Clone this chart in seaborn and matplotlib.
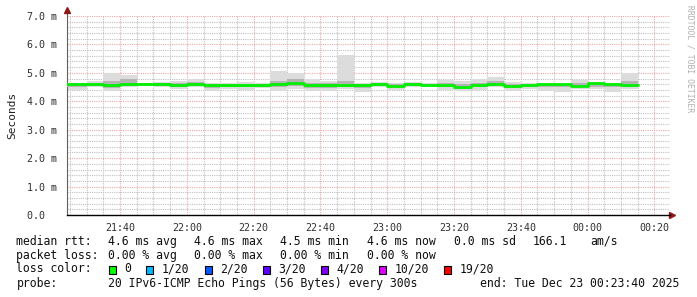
import numpy as np
import pandas as pd
import matplotlib
matplotlib.use("Agg")
import matplotlib.pyplot as plt
from matplotlib.patches import Rectangle
import seaborn as sns

# ---------------- data (minutes after 21:00, values in ms) ----------------
bin_start = [24, 30, 35, 40, 45, 50, 55, 60, 65, 70, 75, 80, 85, 90, 95, 100, 105,
             110, 115, 120, 125, 130, 135, 140, 145, 150, 155, 160, 165, 170, 175,
             180, 185, 190]
bin_end_last = 195
median = [4.60, 4.61, 4.58, 4.61, 4.61, 4.60, 4.58, 4.60, 4.58, 4.59, 4.57, 4.59,
          4.60, 4.64, 4.56, 4.58, 4.59, 4.58, 4.60, 4.54, 4.61, 4.58, 4.58, 4.50,
          4.57, 4.61, 4.55, 4.59, 4.61, 4.61, 4.55, 4.63, 4.61, 4.58]
smoke_lo = [4.41, 4.49, 4.37, 4.49, 4.54, 4.49, 4.42, 4.49, 4.37, 4.42, 4.40, 4.47,
            4.37, 4.42, 4.37, 4.37, 4.42, 4.34, 4.49, 4.40, 4.49, 4.49, 4.40, 4.37,
            4.40, 4.49, 4.37, 4.42, 4.37, 4.34, 4.42, 4.42, 4.34, 4.42]
smoke_hi = [4.64, 4.71, 5.00, 4.92, 4.65, 4.68, 4.72, 4.79, 4.65, 4.65, 4.68, 4.65,
            5.07, 5.00, 4.79, 4.71, 5.63, 4.63, 4.68, 4.65, 4.68, 4.63, 4.75, 4.71,
            4.79, 4.85, 4.68, 4.65, 4.63, 4.62, 4.75, 4.68, 4.63, 5.00]
core_lo = [4.52, 4.55, 4.47, 4.55, 4.57, 4.53, 4.50, 4.55, 4.47, 4.51, 4.49, 4.52,
           4.50, 4.55, 4.47, 4.48, 4.52, 4.48, 4.54, 4.46, 4.55, 4.53, 4.50, 4.44,
           4.50, 4.55, 4.47, 4.52, 4.50, 4.50, 4.50, 4.52, 4.50, 4.50]
core_hi = [4.63, 4.66, 4.70, 4.80, 4.63, 4.64, 4.64, 4.67, 4.62, 4.62, 4.62, 4.62,
           4.70, 4.78, 4.66, 4.63, 4.70, 4.61, 4.64, 4.60, 4.64, 4.61, 4.66, 4.60,
           4.66, 4.72, 4.61, 4.62, 4.62, 4.61, 4.64, 4.66, 4.62, 4.70]

x_ticks = [40, 60, 80, 100, 120, 140, 160, 180, 200]
x_tick_labels = ["21:40", "22:00", "22:20", "22:40", "23:00", "23:20", "23:40",
                 "00:00", "00:20"]
y_ticks = [0, 1, 2, 3, 4, 5, 6, 7]
y_tick_labels = ["0.0  ", "1.0 m", "2.0 m", "3.0 m", "4.0 m", "5.0 m", "6.0 m", "7.0 m"]

legend_rows = [
    ("median rtt:", ["4.6 ms avg", "4.6 ms max", "4.5 ms min", "4.6 ms now",
                     "0.0 ms sd", "166.1", "am/s"]),
    ("packet loss:", ["0.00 % avg", "0.00 % max", "0.00 % min", "0.00 % now"]),
]
loss_labels = ["0", "1/20", "2/20", "3/20", "4/20", "10/20", "19/20"]
loss_colors = ["#00ff00", "#00b8ff", "#0059ff", "#5e00ff", "#7e00ff", "#dd00ff", "#ff0000"]
probe_text = "20 IPv6-ICMP Echo Pings (56 Bytes) every 300s"
end_text = "end: Tue Dec 23 00:23:40 2025"

# ---------------- figure ----------------
sns.set_theme(style="white")
plt.rcParams["font.family"] = ["DejaVu Sans Mono"]

W, H = 697, 297
fig = plt.figure(figsize=(W / 100, H / 100), dpi=100)
L, R, T, B = 67, 670, 16, 215
ax = fig.add_axes([L / W, 1 - B / H, (R - L) / W, (B - T) / H])
ax.set_facecolor("white")

edges = bin_start + [bin_end_last]
def ext(v):
    return list(v) + [v[-1]]

df = pd.DataFrame({"t": edges, "median": ext(median), "lo": ext(smoke_lo),
                   "hi": ext(smoke_hi), "clo": ext(core_lo), "chi": ext(core_hi)})

ax.fill_between(df["t"], df["lo"], df["hi"], step="post", color="#dcdcdc", lw=0, zorder=2)
ax.fill_between(df["t"], df["clo"], df["chi"], step="post", color="#b4b4b4", lw=0, zorder=3)
sns.lineplot(data=df, x="t", y="median", drawstyle="steps-post", color="#00f000",
             lw=2.0, ax=ax, zorder=4, estimator=None)

ax.set_xlim(24.1, 204.7)
ax.set_ylim(0, 7.0)

ax.set_xticks(x_ticks)
ax.set_xticklabels(x_tick_labels)
ax.set_xticks(np.arange(25, 205, 5), minor=True)
ax.set_yticks(y_ticks)
ax.set_yticklabels(y_tick_labels)
ax.set_yticks(np.arange(0, 7.01, 0.2), minor=True)

ax.grid(which="minor", color="#c0c0c0", linestyle=(0, (1, 1)), lw=0.8, zorder=1)
ax.grid(which="major", color="#f0a8a8", linestyle=(0, (1, 1)), lw=0.8, zorder=1)
ax.set_axisbelow(True)

ax.tick_params(axis="both", which="major", labelsize=7.2, length=3, width=0.7,
               color="#a04040", direction="out", pad=3, labelcolor="#303030")
ax.tick_params(axis="both", which="minor", length=2, width=0.6, color="#808080",
               direction="out")
ax.tick_params(axis="y", which="major", pad=4)
ax.set_xlabel("")
ax.set_ylabel("")

for s in ["top", "right"]:
    ax.spines[s].set_visible(False)
ax.spines["left"].set_color("#606060")
ax.spines["left"].set_linewidth(0.8)
ax.spines["bottom"].set_color("#000000")
ax.spines["bottom"].set_linewidth(1.0)

# axis arrows
ax.plot([0, 0], [1.0, 1.03], transform=ax.transAxes, color="#606060", lw=0.8, clip_on=False)
ax.plot([0], [1.03], marker="^", ms=4, color="#8b1a1a", transform=ax.transAxes, clip_on=False)
ax.plot([1.0, 1.004], [0, 0], transform=ax.transAxes, color="#000000", lw=1.0, clip_on=False)
ax.plot([1.004], [0], marker=">", ms=4, color="#8b1a1a", transform=ax.transAxes, clip_on=False)

# y label and watermark
fig.text(12 / W, 1 - 115 / H, "Seconds", rotation=90, ha="center", va="center",
         fontsize=8, color="#202020")
fig.text(690 / W, 1 - 5 / H, "RRDTOOL / TOBI OETIKER", rotation=270, ha="center",
         va="top", fontsize=5.8, color="#b0b0b0")

# legend text block
FS = 8.3
def ftext(x, y, s, **kw):
    fig.text(x / W, 1 - y / H, s, ha="left", va="center", fontsize=FS, color="#101010", **kw)

row_y = [241.5, 255.5, 269.0, 283.5]
col_x = [108.0, 194.5, 280.5, 366.5, 453.5, 533.0, 590.0]
for (label, vals), y in zip(legend_rows, row_y[:2]):
    ftext(16.5, y, label)
    for v, x in zip(vals, col_x):
        ftext(x, y, v)

ftext(16.5, row_y[2], "loss color:")
box_x = [108.5, 146.0, 204.5, 262.5, 320.5, 379.0, 444.0]
for bx, lab, col in zip(box_x, loss_labels, loss_colors):
    fig.patches.append(Rectangle((bx / W, 1 - 273.5 / H), 7 / W, 8 / H,
                                 transform=fig.transFigure, facecolor=col,
                                 edgecolor="black", lw=0.8))
    ftext(bx + 15.5, row_y[2], lab)

ftext(16.5, row_y[3], "probe:")
ftext(108.0, row_y[3], probe_text)
ftext(480.5, row_y[3], end_text)

fig.savefig("out.png", dpi=100, facecolor="white")
